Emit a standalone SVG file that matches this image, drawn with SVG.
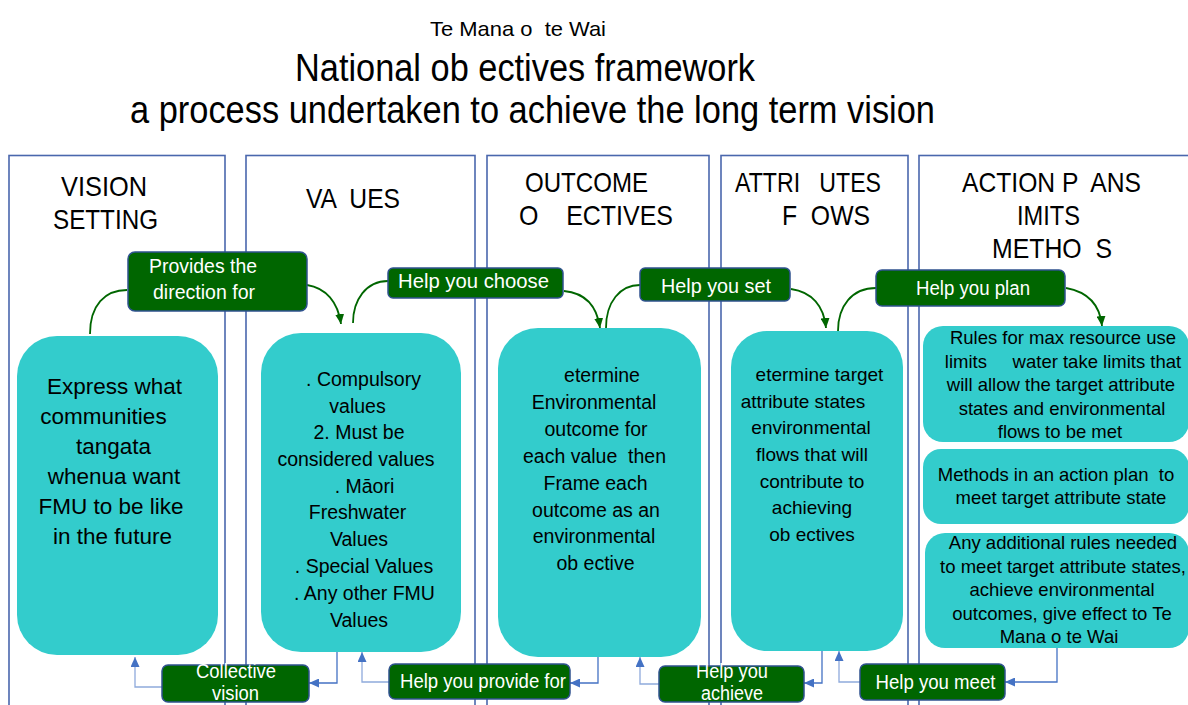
<svg xmlns="http://www.w3.org/2000/svg" width="1188" height="705" viewBox="0 0 1188 705">
  <style>
    text { font-family: "Liberation Sans", Arial, sans-serif; fill: #000; white-space: pre; }
    .title { font-size: 38px; }
    .sub { font-size: 21px; }
    .head { font-size: 28px; }
    .frame { fill: none; stroke: #4a67ad; stroke-width: 1.6; }
    .node { fill: #33cccc; }
    .n1 text { font-size: 22.5px; text-anchor: middle; }
    .n2 text { font-size: 19.5px; text-anchor: middle; }
    .n4 text { font-size: 19px; text-anchor: middle; }
    .n5 text { font-size: 18.5px; text-anchor: middle; }
    .lbl rect { fill: #006600; stroke: #2f528f; stroke-width: 1.5; }
    .lbl text { fill: #fff; font-size: 20px; }
    .green { fill: none; stroke: #006600; stroke-width: 1.8; }
    .blue { fill: none; stroke: #4472c4; stroke-width: 1.3; }
    .blue.light { stroke: #8faadc; }
  </style>
  <defs>
    <marker id="ga" markerUnits="userSpaceOnUse" markerWidth="10" markerHeight="9" refX="10" refY="4.5" orient="auto">
      <path d="M0,0 L10,4.5 L0,9 z" fill="#006600"/>
    </marker>
    <marker id="ba" markerUnits="userSpaceOnUse" markerWidth="10" markerHeight="9" refX="10" refY="4.5" orient="auto">
      <path d="M0,0 L10,4.5 L0,9 z" fill="#4472c4"/>
    </marker>
  </defs>

  <rect width="1188" height="705" fill="#fff"/>

  <!-- title block -->
  <g id="title">
    <text class="sub" x="430" y="36" textLength="176" lengthAdjust="spacingAndGlyphs">Te Mana o  te Wai</text>
    <text class="title" x="295" y="81" textLength="460" lengthAdjust="spacingAndGlyphs">National ob ectives framework</text>
    <text class="title" x="130" y="123" textLength="805" lengthAdjust="spacingAndGlyphs">a process undertaken to achieve the long term vision</text>
  </g>

  <!-- column frames with headings -->
  <g id="col-vision">
    <rect class="frame" x="9" y="155.5" width="216" height="600"/>
    <text class="head" x="61" y="196" textLength="86" lengthAdjust="spacingAndGlyphs">VISION</text>
    <text class="head" x="53" y="229" textLength="105" lengthAdjust="spacingAndGlyphs">SETTING</text>
  </g>
  <g id="col-values">
    <rect class="frame" x="246" y="155.5" width="229" height="600"/>
    <text class="head" x="306" y="208" textLength="94" lengthAdjust="spacingAndGlyphs">VA  UES</text>
  </g>
  <g id="col-outcomes">
    <rect class="frame" x="487" y="155.5" width="222" height="600"/>
    <text class="head" x="525" y="192" textLength="123" lengthAdjust="spacingAndGlyphs">OUTCOME</text>
    <text class="head" x="519" y="225" textLength="154" lengthAdjust="spacingAndGlyphs">O    ECTIVES</text>
  </g>
  <g id="col-attributes">
    <rect class="frame" x="721" y="155.5" width="187" height="600"/>
    <text class="head" x="735" y="192" textLength="146" lengthAdjust="spacingAndGlyphs">ATTRI   UTES</text>
    <text class="head" x="782" y="225" textLength="88" lengthAdjust="spacingAndGlyphs">F  OWS</text>
  </g>
  <g id="col-actions">
    <rect class="frame" x="919" y="155.5" width="300" height="600"/>
    <text class="head" x="962" y="192" textLength="179" lengthAdjust="spacingAndGlyphs">ACTION P  ANS</text>
    <text class="head" x="1017" y="225" textLength="63" lengthAdjust="spacingAndGlyphs">IMITS</text>
    <text class="head" x="992" y="258" textLength="120" lengthAdjust="spacingAndGlyphs">METHO  S</text>
  </g>

  <!-- content boxes -->
  <g id="node-vision" class="n1">
    <rect class="node" x="17" y="336" width="201" height="319" rx="40"/>
    <text x="114.5" y="394">Express what</text>
    <text x="103.5" y="424">communities</text>
    <text x="113.5" y="454">tangata</text>
    <text x="114" y="484">whenua want</text>
    <text x="111" y="514">FMU to be like</text>
    <text x="112.5" y="544">in the future</text>
  </g>
  <g id="node-values" class="n2">
    <rect class="node" x="261" y="333" width="200" height="319" rx="40"/>
    <text x="363.5" y="386">. Compulsory</text>
    <text x="357.5" y="412.5">values</text>
    <text x="359" y="439">2. Must be</text>
    <text x="356" y="466">considered values</text>
    <text x="364.5" y="493">. Māori</text>
    <text x="357.5" y="519">Freshwater</text>
    <text x="359" y="546">Values</text>
    <text x="364" y="573">. Special Values</text>
    <text x="364.5" y="600">. Any other FMU</text>
    <text x="359" y="627">Values</text>
  </g>
  <g id="node-outcomes" class="n2">
    <rect class="node" x="498" y="328" width="203" height="329" rx="40"/>
    <text x="602" y="382">etermine</text>
    <text x="594" y="409">Environmental</text>
    <text x="596" y="436">outcome for</text>
    <text x="594.5" y="463">each value  then</text>
    <text x="595.5" y="490">Frame each</text>
    <text x="596" y="517">outcome as an</text>
    <text x="594" y="543">environmental</text>
    <text x="595.5" y="570">ob ective</text>
  </g>
  <g id="node-attributes" class="n4">
    <rect class="node" x="731" y="331" width="172" height="320" rx="36"/>
    <text x="819.5" y="381">etermine target</text>
    <text x="803" y="407.5">attribute states</text>
    <text x="811" y="434">environmental</text>
    <text x="812" y="461">flows that will</text>
    <text x="812" y="487.5">contribute to</text>
    <text x="812" y="514">achieving</text>
    <text x="812" y="541">ob ectives</text>
  </g>
  <g id="node-limits" class="n5">
    <rect class="node" x="923" y="326" width="266" height="116" rx="20"/>
    <text x="1063" y="344">Rules for max resource use</text>
    <text x="1063" y="367.5">limits     water take limits that</text>
    <text x="1061" y="391">will allow the target attribute</text>
    <text x="1062" y="414.5">states and environmental</text>
    <text x="1060" y="438">flows to be met</text>
  </g>
  <g id="node-methods" class="n5">
    <rect class="node" x="923" y="449" width="266" height="75" rx="18"/>
    <text x="1056" y="481">Methods in an action plan  to</text>
    <text x="1061" y="504">meet target attribute state</text>
  </g>
  <g id="node-rules" class="n5">
    <rect class="node" x="925" y="533" width="264" height="115" rx="20"/>
    <text x="1063" y="549">Any additional rules needed</text>
    <text x="1063" y="572.5">to meet target attribute states,</text>
    <text x="1062" y="596">achieve environmental</text>
    <text x="1062" y="619.5">outcomes, give effect to Te</text>
    <text x="1059" y="643">Mana o te Wai</text>
  </g>

  <!-- connectors -->
  <g id="connectors">
    <path class="green" d="M90 334 C90 305 105 290 127 290"/>
    <path class="green" d="M307 285 C326 288 338 302 341 324" marker-end="url(#ga)"/>
    <path class="green" d="M353 323 C353 300 366 281 388 281"/>
    <path class="green" d="M564 291 C585 293 597 306 600 328" marker-end="url(#ga)"/>
    <path class="green" d="M606 328 C606 302 620 285 640 285"/>
    <path class="green" d="M791 289 C812 292 824 306 826 328" marker-end="url(#ga)"/>
    <path class="green" d="M838 331 C838 306 852 288 876 288"/>
    <path class="green" d="M1066 288 C1088 292 1100 305 1102 326" marker-end="url(#ga)"/>

    <path class="blue light" d="M162 687 H135 V657" marker-end="url(#ba)"/>
    <path class="blue" d="M337 652 V683 H309" marker-end="url(#ba)"/>
    <path class="blue light" d="M389 682 H362 V652" marker-end="url(#ba)"/>
    <path class="blue" d="M598 657 V683 H570" marker-end="url(#ba)"/>
    <path class="blue light" d="M659 684 H640 V657" marker-end="url(#ba)"/>
    <path class="blue" d="M822 651 V683 H804" marker-end="url(#ba)"/>
    <path class="blue light" d="M860 682 H839 V651" marker-end="url(#ba)"/>
    <path class="blue" d="M1057 648 V682 H1005" marker-end="url(#ba)"/>
  </g>

  <!-- relation labels -->
  <g id="lbl-direction" class="lbl">
    <rect x="128" y="252" width="179" height="59" rx="7"/>
    <text x="149" y="273" textLength="108" lengthAdjust="spacingAndGlyphs">Provides the</text>
    <text x="153" y="299" textLength="102" lengthAdjust="spacingAndGlyphs">direction for</text>
  </g>
  <g id="lbl-choose" class="lbl">
    <rect x="388" y="268" width="175" height="30" rx="5"/>
    <text x="398" y="288" textLength="151" lengthAdjust="spacingAndGlyphs">Help you choose</text>
  </g>
  <g id="lbl-set" class="lbl">
    <rect x="640" y="268" width="150" height="33" rx="5"/>
    <text x="661" y="292.5" textLength="110" lengthAdjust="spacingAndGlyphs">Help you set</text>
  </g>
  <g id="lbl-plan" class="lbl">
    <rect x="876" y="270" width="189" height="36" rx="6"/>
    <text x="916" y="295" textLength="114" lengthAdjust="spacingAndGlyphs">Help you plan</text>
  </g>
  <g id="lbl-collective" class="lbl">
    <rect x="162" y="665" width="147" height="37" rx="6"/>
    <text x="196" y="677.5" textLength="80" lengthAdjust="spacingAndGlyphs">Collective</text>
    <text x="212" y="700" textLength="47" lengthAdjust="spacingAndGlyphs">vision</text>
  </g>
  <g id="lbl-provide" class="lbl">
    <rect x="389" y="664" width="181" height="35" rx="6"/>
    <text x="400" y="688" textLength="166" lengthAdjust="spacingAndGlyphs">Help you provide for</text>
  </g>
  <g id="lbl-achieve" class="lbl">
    <rect x="659" y="666" width="145" height="36" rx="6"/>
    <text x="696" y="678" textLength="72" lengthAdjust="spacingAndGlyphs">Help you</text>
    <text x="701" y="700" textLength="62" lengthAdjust="spacingAndGlyphs">achieve</text>
  </g>
  <g id="lbl-meet" class="lbl">
    <rect x="860" y="664" width="145" height="36" rx="6"/>
    <text x="875.5" y="689" textLength="120" lengthAdjust="spacingAndGlyphs">Help you meet</text>
  </g>
</svg>
